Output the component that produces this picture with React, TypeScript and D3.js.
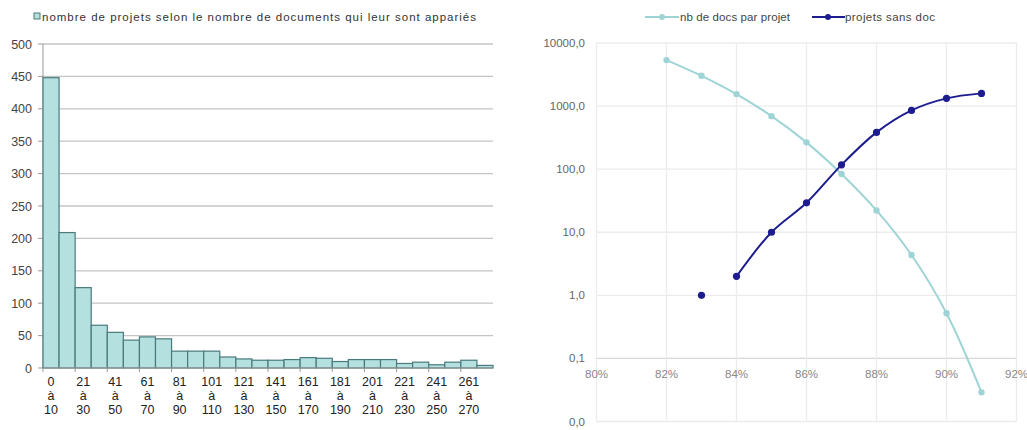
import React from "react";
import * as d3 from "d3";

// ---- Left chart data ----
const binStarts = [0, 11, 21, 31, 41, 51, 61, 71, 81, 91, 101, 111, 121, 131, 141, 151, 161, 171, 181, 191, 201, 211, 221, 231, 241, 251, 261, 271];
const binEnds = [10, 20, 30, 40, 50, 60, 70, 80, 90, 100, 110, 120, 130, 140, 150, 160, 170, 180, 190, 200, 210, 220, 230, 240, 250, 260, 270, 280];
const projectCounts = [448, 209, 124, 66, 55, 43, 48, 45, 26, 26, 26, 17, 14, 12, 12, 13, 16, 15, 10, 13, 13, 13, 7, 9, 5, 9, 12, 4];
const leftYTicks = [0, 50, 100, 150, 200, 250, 300, 350, 400, 450, 500];
const leftLegend = "nombre de projets selon le nombre de documents qui leur sont appariés";

// ---- Right chart data ----
const docsX = [82, 83, 84, 85, 86, 87, 88, 89, 90, 91];
const docsPerProject = [5360, 3020, 1550, 693, 266, 84, 22.2, 4.35, 0.52, 0.029];
const sansDocX = [83, 84, 85, 86, 87, 88, 89, 90, 91];
const sansDocValues = [1, 2, 10, 29.3, 117, 383, 855, 1325, 1590];
const sansDocLineFrom = 1; // first point is not joined to the line
const rightYTicks = [0.01, 0.1, 1, 10, 100, 1000, 10000];
const rightXTicks = [80, 82, 84, 86, 88, 90, 92];
const seriesNames = ["nb de docs par projet", "projets sans doc"];

const FONT = "'Liberation Sans', Arial, sans-serif";
const LIGHT = "#9fd4d6";
const DARK = "#1c1c8f";

export default function App() {
  // Left chart scales
  const lx = d3.scaleBand<number>().domain(d3.range(projectCounts.length)).range([43, 493]).padding(0);
  const ly = d3.scaleLinear().domain([0, 500]).range([368, 44]);

  // Right chart scales
  const rx = d3.scaleLinear().domain([80, 92]).range([596.5, 1016.5]);
  const ry = d3.scaleLog().domain([0.01, 10000]).range([421.5, 43]);

  const fmtComma = (v: number) => d3.format(".1f")(v).replace(".", ",");

  const line = d3
    .line<[number, number]>()
    .x((d) => rx(d[0]))
    .y((d) => ry(d[1]))
    .curve(d3.curveCatmullRom.alpha(0.5));

  const docsPts: [number, number][] = docsX.map((x, i) => [x, docsPerProject[i]]);
  const sansPts: [number, number][] = sansDocX.map((x, i) => [x, sansDocValues[i]]);
  const sansLinePts = sansPts.slice(sansDocLineFrom);

  const bw = lx.bandwidth();

  return (
    <svg width={1027} height={430} style={{ position: "absolute", left: 0, top: 0, background: "#fff" }} fontFamily={FONT}>
      {/* ===== Left chart ===== */}
      <rect x={34} y={13} width={6} height={6} fill="#b4e0e0" stroke="#4a7a7c" strokeWidth={1} />
      <text x={42} y={21} fontSize={11.5} fill="#333" textLength={434} lengthAdjust="spacing">{leftLegend}</text>

      {leftYTicks.map((t) => (
        <g key={"lg" + t}>
          {t > 0 && <line x1={43} x2={493} y1={ly(t)} y2={ly(t)} stroke="#c4c4c4" strokeWidth={1.3} />}
          <line x1={38} x2={43} y1={ly(t)} y2={ly(t)} stroke="#999" />
          <text x={32} y={ly(t) + 4.5} fontSize={12.5} fill="#444" textAnchor="end">{t}</text>
        </g>
      ))}
      <line x1={43} x2={43} y1={44} y2={368} stroke="#999" />

      {projectCounts.map((v, i) => (
        <rect
          key={"bar" + i}
          x={lx(i)!}
          y={ly(v)}
          width={bw}
          height={ly(0) - ly(v)}
          fill="#b4e0e0"
          stroke="#4a7a7c"
          strokeWidth={1.2}
        />
      ))}
      <line x1={43} x2={493} y1={368} y2={368} stroke="#999" />
      {projectCounts.map((_, i) =>
        i % 2 === 0 ? <line key={"xt" + i} x1={lx(i)!} x2={lx(i)!} y1={368} y2={372} stroke="#999" /> : null
      )}
      {binStarts.map((s, i) =>
        i % 2 === 0 && i < 27 ? (
          <text key={"xl" + i} x={lx(i)! + bw / 2} fontSize={12.5} fill="#222" textAnchor="middle">
            <tspan x={lx(i)! + bw / 2} y={386}>{s}</tspan>
            <tspan x={lx(i)! + bw / 2} y={400}>à</tspan>
            <tspan x={lx(i)! + bw / 2} y={414}>{binEnds[i]}</tspan>
          </text>
        ) : null
      )}

      {/* ===== Right chart ===== */}
      {/* legend */}
      <line x1={645} x2={679} y1={17} y2={17} stroke={LIGHT} strokeWidth={2} />
      <circle cx={662} cy={17} r={3} fill={LIGHT} />
      <text x={680} y={21} fontSize={11.5} fill="#444" textLength={110} lengthAdjust="spacing">{seriesNames[0]}</text>
      <line x1={812} x2={845} y1={17} y2={17} stroke={DARK} strokeWidth={2} />
      <circle cx={828} cy={17} r={3} fill={DARK} />
      <text x={845} y={21} fontSize={11.5} fill="#444" textLength={90} lengthAdjust="spacing">{seriesNames[1]}</text>

      {/* gridlines */}
      {rightYTicks.map((t) => (
        <g key={"ry" + t}>
          <line x1={596.5} x2={1016.5} y1={ry(t)} y2={ry(t)} stroke={t === 0.1 ? "#d8d8d8" : "#ececec"} strokeWidth={1.3} />
          <text x={585} y={ry(t) + 4} fontSize={11.5} fill="#666" textAnchor="end">{fmtComma(t)}</text>
        </g>
      ))}
      {rightXTicks.map((t) => (
        <g key={"rx" + t}>
          <line x1={rx(t)} x2={rx(t)} y1={43} y2={421.5} stroke="#ececec" strokeWidth={1.3} />
          <text x={rx(t)} y={378} fontSize={11.5} fill="#888" textAnchor="middle">{t}%</text>
        </g>
      ))}

      {/* series */}
      <path d={line(docsPts) || ""} fill="none" stroke={LIGHT} strokeWidth={2} />
      {docsPts.map((p, i) => (
        <circle key={"dp" + i} cx={rx(p[0])} cy={ry(p[1])} r={3.2} fill={LIGHT} />
      ))}
      <path d={line(sansLinePts) || ""} fill="none" stroke={DARK} strokeWidth={2} />
      {sansPts.map((p, i) => (
        <circle key={"sp" + i} cx={rx(p[0])} cy={ry(p[1])} r={3.6} fill={DARK} />
      ))}
    </svg>
  );
}
